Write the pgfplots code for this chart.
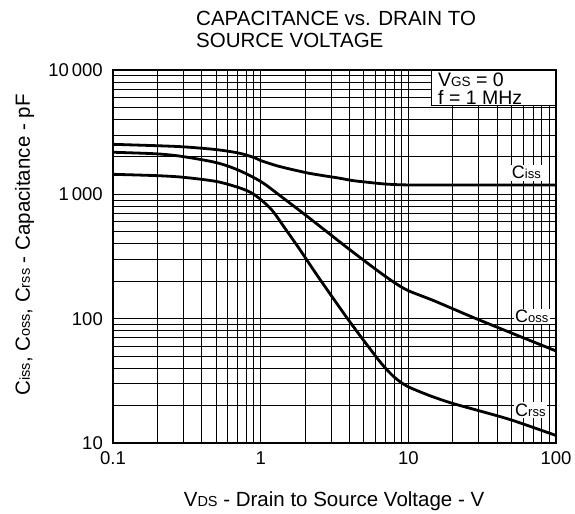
\documentclass[border=0pt]{standalone}
\usepackage{fontspec}
\setmainfont{Liberation Sans}
\usepackage{pgfplots}
\pgfplotsset{compat=1.18}
\newcommand{\fs}[1]{\fontsize{#1}{#1}\selectfont}
\begin{document}
\begin{tikzpicture}
\begin{axis}[
  xmode=log, ymode=log,
  scale only axis, width=443pt, height=373pt,
  xmin=0.1, xmax=100, ymin=10, ymax=10000,
  xtick={0.1,1,10,100}, xticklabels={0.1,1,10,100},
  ytick={10,100,1000,10000}, yticklabels={10,100,1\,000,10\,000},
  minor xtick={0.2,0.3,0.4,0.5,0.6,0.7,0.8,0.9,2,3,4,5,6,7,8,9,20,30,40,50,60,70,80,90},
  minor ytick={20,30,40,50,60,70,80,90,200,300,400,500,600,700,800,900,2000,3000,4000,5000,6000,7000,8000,9000},
  grid=both,
  major grid style={black, line width=1pt},
  minor grid style={black, line width=0.9pt},
  major tick length=0pt, minor tick length=0pt,
  axis line style={line width=1.8pt},
  xticklabel style={font=\fs{18.5}, anchor=north, inner sep=0pt, yshift=-8.5pt},
  yticklabel style={font=\fs{18.5}, anchor=east, inner sep=0pt, xshift=-10pt},
  clip=false,
]
% Ciss
\addplot[black, line width=2.8pt, smooth, tension=0.5, line join=round] coordinates {
(0.1,2525) (0.2,2460) (0.3,2410) (0.5,2290) (0.72,2140) (0.92,1960) (1.0,1870)
(1.33,1680) (2,1500) (2.5,1430) (3.4,1350) (4.2,1290) (5,1260) (7,1210) (10,1190)
(20,1188) (50,1188) (100,1188)};
% Coss
\addplot[black, line width=2.8pt, smooth, tension=0.5, line join=round] coordinates {
(0.1,2180) (0.2,2115) (0.3,2010) (0.5,1800) (0.7,1573) (1,1270) (1.33,991)
(2,685) (3,470) (4,360) (6,250) (8,196) (10,168) (15,139) (30,98) (100,55)};
% Crss
\addplot[black, line width=2.8pt, smooth, tension=0.5, line join=round] coordinates {
(0.1,1449) (0.2,1413) (0.3,1371) (0.5,1270) (0.7,1140) (0.85,1040)
(1.0,910) (1.2,740) (1.45,540) (1.85,357) (2.5,210) (4,95) (6,50) (7,40)
(8,34) (9,30.5) (10,28.3) (12,25.8) (15,23.3) (20,20.8) (30,18.2) (50,15.3) (100,11.5)};
% legend box
\fill[white] (rel axis cs:0.718,0.9035) rectangle (rel axis cs:1,1);
\draw[line width=1pt] (rel axis cs:0.718,1) -- (rel axis cs:0.718,0.9035) -- (rel axis cs:1,0.9035);
\draw[line width=1.8pt] (rel axis cs:0.718,1) -- (rel axis cs:1,1) -- (rel axis cs:1,0.9035);
\node[anchor=base west, inner sep=0pt, font=\fs{19.5}] at (rel axis cs:0.7336,0.9571) {V{\fs{13.5}GS} = 0};
\node[anchor=base west, inner sep=0pt, font=\fs{19.5}] at (rel axis cs:0.7336,0.9062) {f = 1 MHz};
% curve labels
\node[anchor=base west, fill=white, inner sep=1.5pt] at (rel axis cs:0.8966,0.7078) {\fs{18}C{\fs{13}iss}};
\node[anchor=base west, fill=white, inner sep=1.5pt] at (rel axis cs:0.9041,0.3225) {\fs{18}C{\fs{13}oss}};
\node[anchor=base west, fill=white, inner sep=1.5pt] at (rel axis cs:0.9041,0.0724) {\fs{18}C{\fs{13}rss}};
% title
\node[anchor=base west, inner sep=0pt, font=\fs{20.5}] at (rel axis cs:0.1874,1.1193) {CAPACITANCE vs. DRAIN TO};
\node[anchor=base west, inner sep=0pt, font=\fs{20.5}] at (rel axis cs:0.1874,1.0603) {SOURCE VOLTAGE};
% axis labels
\node[anchor=base, inner sep=0pt, font=\fs{20.5}] at (rel axis cs:0.499,-0.170) {V{\fs{14.5}DS} - Drain to Source Voltage - V};
\node[anchor=base, rotate=90, inner sep=0pt, font=\fs{20.5}] at (rel axis cs:-0.1874,0.531) {C{\fs{14.5}iss},  C{\fs{14.5}oss},  C{\fs{14.5}rss} - Capacitance - pF};
% bounding box
\path (rel axis cs:-0.2551,-0.1903) rectangle (rel axis cs:1.0429,1.1877);
\end{axis}
\end{tikzpicture}
\end{document}
